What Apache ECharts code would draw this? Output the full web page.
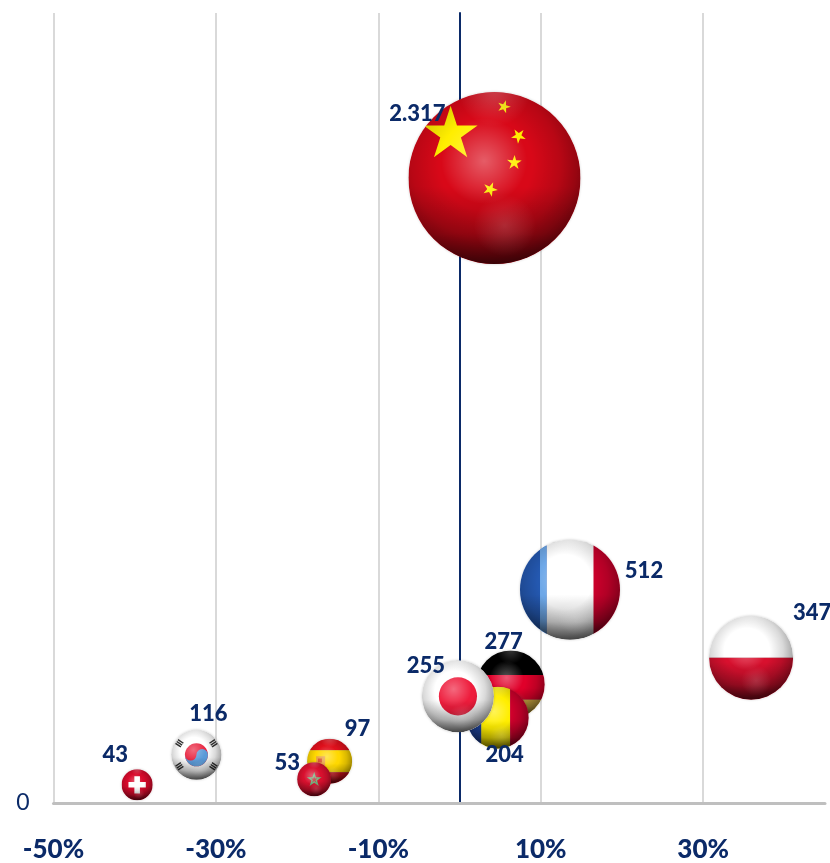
<!DOCTYPE html>
<html><head><meta charset="utf-8">
<style>html,body{margin:0;padding:0;background:#fff}#c{width:830px;height:863px}</style>
<script src="https://cdn.jsdelivr.net/npm/echarts@6/dist/echarts.min.js"></script>
</head><body><div id="c"></div>
<script>
// Data
const countries = ['China','France','Poland','Germany','Romania','Japan','Spain','Morocco','Korea','Switzerland'];
const growth    = [4.3, 13.6, 35.9, 6.3, 4.7, -0.2, -16.0, -17.9, -32.4, -39.7];
const position  = [791, 270, 184, 150, 108, 135, 53, 30, 61, 23];
const volume    = [2317, 512, 347, 277, 204, 255, 97, 53, 116, 43];
const xTicks    = [-50, -30, -10, 10, 30];

// Styling: bubble radius (px) and label offset from the bubble centre (px)
const radii = [86, 50, 42, 34, 31, 36, 22.5, 17, 25, 15.5];
const labelOffsets = [[-77,-64],[74,-19],[61,-45],[-7,-43],[7,37],[-32,-30],[28,-32],[-27,-16],[12,-41],[-22,-30]];
const NAVY = '#0b2a68';

const starPts = (cx, cy, R, rot = 0) => {
  const p = [];
  for (let i = 0; i < 10; i++) {
    const a = -Math.PI / 2 + rot + i * Math.PI / 5, q = i % 2 ? R * 0.382 : R;
    p.push([cx + q * Math.cos(a), cy + q * Math.sin(a)]);
  }
  return p;
};
const rect = (x0, y0, x1, y1, fill, r) => ({type:'rect', shape:{x:x0*r, y:y0*r, width:(x1-x0)*r, height:(y1-y0)*r}, style:{fill}});
const star = (cx, cy, R, fill, r, rot) => ({type:'polygon', shape:{points:starPts(cx*r, cy*r, R*r, rot)}, style:{fill}});
const disc = (cx, cy, R, fill, r) => ({type:'circle', shape:{cx:cx*r, cy:cy*r, r:R*r}, style:{fill}});
const trigram = (cx, cy, ang, r) => [-.09,0,.09].map(d => ({
  type:'line',
  shape:{x1:(cx+d*Math.cos(ang)-.13*Math.sin(ang))*r, y1:(cy+d*Math.sin(ang)+.13*Math.cos(ang))*r,
         x2:(cx+d*Math.cos(ang)+.13*Math.sin(ang))*r, y2:(cy+d*Math.sin(ang)-.13*Math.cos(ang))*r},
  style:{stroke:'#333', lineWidth:Math.max(1.4, r*.06)}
}));

const flags = {
  China: r => [rect(-1,-1,1,1,'#d80818',r), star(-.51,-.51,.33,'#ffee00',r), star(.11,-.83,.08,'#ffee00',r,.3),
               star(.28,-.49,.09,'#ffee00',r,.7), star(.23,-.18,.09,'#ffee00',r,.05), star(-.05,.13,.09,'#ffee00',r,.4)],
  France: r => [rect(-1,-1,1,1,'#ffffff',r), rect(-1,-1,-.47,1,'#2458b0',r), rect(-.6,-1,-.47,1,'#6ea8e8',r), rect(.47,-1,1,1,'#d0002c',r)],
  Poland: r => [rect(-1,-1,1,0,'#ffffff',r), rect(-1,0,1,1,'#d8102e',r)],
  Germany: r => [rect(-1,-1,1,-.28,'#000000',r), rect(-1,-.28,1,.45,'#e0002a',r), rect(-1,.45,1,1,'#e0b848',r)],
  Romania: r => [rect(-1,-1,-.53,1,'#1c3f94',r), rect(-.53,-1,.4,1,'#ffee00',r), rect(.4,-1,1,1,'#d0002c',r)],
  Japan: r => [rect(-1,-1,1,1,'#ffffff',r), disc(0,0,.53,'#ee1c3c',r)],
  Spain: r => [rect(-1,-1,1,-.48,'#e0101c',r), rect(-1,-.48,1,.49,'#ffd800',r), rect(-1,.49,1,1,'#d8101c',r),
               rect(-.6,-.22,-.2,.2,'#e8a040',r), rect(-.52,-.12,-.34,.06,'#d8502a',r)],
  Morocco: r => [rect(-1,-1,1,1,'#d8102e',r), star(0,.02,.46,'#6fb07a',r), star(0,.02,.2,'#c4303c',r)],
  Korea: r => [rect(-1,-1,1,1,'#ffffff',r), disc(0,0,.46,'#e8203c',r),
    {type:'path', shape:{pathData:`M ${-.46*r} 0 A ${.23*r} ${.23*r} 0 0 0 0 0 A ${.23*r} ${.23*r} 0 0 1 ${.46*r} 0 A ${.46*r} ${.46*r} 0 0 1 ${-.46*r} 0 Z`}, style:{fill:'#5a9ad8'}},
    ...trigram(-.68,-.46,-.98,r), ...trigram(.68,-.46,.98,r), ...trigram(-.68,.46,.98,r), ...trigram(.68,.46,-.98,r)],
  Switzerland: r => [rect(-1,-1,1,1,'#d80a2c',r), rect(-.56,-.18,.56,.18,'#ffffff',r), rect(-.18,-.56,.18,.56,'#ffffff',r)]
};

const radial = (x, y, R, stops) => ({type:'radial', x, y, r:R, global:false,
  colorStops:stops.map(s => ({offset:s[0], color:s[1]}))});
const linear = stops => ({type:'linear', x:0, y:0, x2:0, y2:1, global:false,
  colorStops:stops.map(s => ({offset:s[0], color:s[1]}))});

const gloss = r => [
  {type:'circle', shape:{cx:0,cy:0,r}, style:{fill:radial(.45,.42,.6,[[0,'rgba(0,0,0,0)'],[.45,'rgba(0,0,0,0)'],[.72,'rgba(0,0,0,.15)'],[.88,'rgba(0,0,0,.3)'],[1,'rgba(0,0,0,.45)']])}},
  {type:'circle', shape:{cx:0,cy:0,r}, style:{fill:linear([[0,'rgba(0,0,0,0)'],[.55,'rgba(0,0,0,0)'],[.82,'rgba(0,0,0,.22)'],[1,'rgba(0,0,0,.55)']])}},
  {type:'circle', shape:{cx:-.12*r,cy:-.2*r,r:.5*r}, style:{fill:radial(.5,.5,.5,[[0,'rgba(255,255,255,.34)'],[1,'rgba(255,255,255,0)']])}},
  {type:'circle', shape:{cx:.12*r,cy:.55*r,r:.36*r}, style:{fill:radial(.5,.5,.5,[[0,'rgba(255,255,255,.14)'],[1,'rgba(255,255,255,0)']])}},
  {type:'circle', shape:{cx:0,cy:-1.02*r,r:.42*r}, style:{fill:radial(.5,.5,.5,[[0,'rgba(255,255,255,.22)'],[1,'rgba(255,255,255,0)']])}}
];

const renderBubble = (params, api) => {
  const i = params.dataIndex, r = radii[i];
  const [cx, cy] = api.coord([api.value(0), api.value(1)]);
  return {
    type:'group', x:cx, y:cy,
    children:[
      {type:'circle', shape:{cx:0,cy:0,r:r-.5}, style:{fill:'#999', shadowBlur:3, shadowColor:'rgba(0,0,0,.3)'}},
      {type:'group', clipPath:{type:'circle', shape:{cx:0,cy:0,r}},
       children:[...flags[countries[i]](r), ...gloss(r)]}
    ]
  };
};
const renderLabel = (params, api) => {
  const i = params.dataIndex;
  const [cx, cy] = api.coord([api.value(0), api.value(1)]);
  const txt = String(volume[i]).replace(/\B(?=(\d{3})+$)/, '.');
  return {type:'text', x:cx+labelOffsets[i][0], y:cy+labelOffsets[i][1],
    style:{text:txt, fill:NAVY, font:'900 22px Lato', textAlign:'center', textVerticalAlign:'middle'}};
};

const points = countries.map((c, i) => [growth[i], position[i], volume[i]]);
const chart = echarts.init(document.getElementById('c'));
chart.setOption({
  animation:false,
  backgroundColor:'#fff',
  grid:{left:53.5, right:5, top:13, bottom:59.5, containLabel:false},
  xAxis:{type:'value', min:-50, max:45, interval:20,
    axisLine:{show:true, onZero:false, lineStyle:{color:'#bfbfbf', width:3}},
    axisTick:{show:false},
    axisLabel:{margin:34, color:NAVY, fontFamily:'Lato', fontWeight:900, fontSize:26,
      formatter:v => xTicks.includes(v) ? v + '%' : ''},
    splitLine:{show:true, showMaxLine:false, lineStyle:{color:'#d9d9d9', width:2}}},
  yAxis:[
    {type:'value', min:0, max:1000, interval:1000, position:'left',
     axisLine:{show:false, onZero:false}, axisTick:{show:false}, splitLine:{show:false},
     axisLabel:{margin:24, color:NAVY, fontFamily:'Lato', fontSize:23, formatter:v => v === 0 ? '0' : ''}},
    {type:'value', min:0, max:1000, interval:1000,
     axisLine:{show:true, onZero:true, lineStyle:{color:'#0b2a68', width:2}},
     axisTick:{show:false}, axisLabel:{show:false}, splitLine:{show:false}}
  ],
  series:[
    {type:'custom', name:'bubbles', clip:false, xAxisIndex:0, yAxisIndex:0, z:3, renderItem:renderBubble,
     encode:{x:0,y:1}, data:points},
    {type:'custom', name:'labels', clip:false, xAxisIndex:0, yAxisIndex:0, z:5, renderItem:renderLabel,
     encode:{x:0,y:1}, data:points}
  ]
});
</script></body></html>
